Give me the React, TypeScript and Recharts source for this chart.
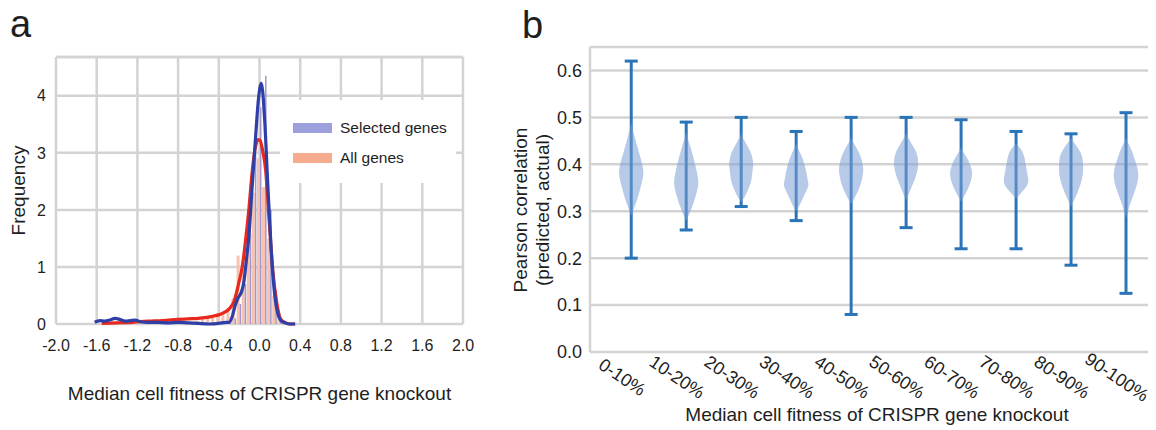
import React from "react"
import {
  ComposedChart,
  Bar,
  Line,
  Scatter,
  ErrorBar,
  XAxis,
  YAxis,
  CartesianGrid,
  ReferenceLine,
  Legend,
} from "recharts"

const FONT = "'Liberation Sans', Arial, Helvetica, sans-serif"
const GRID = "#d3d3d3"
const TEXT = "#1e1e1e"

// ---- panel a: fitness distribution ----
const fitnessTicks = [-2.0, -1.6, -1.2, -0.8, -0.4, 0.0, 0.4, 0.8, 1.2, 1.6, 2.0]
const frequencyTicks = [0, 1, 2, 3, 4]

const histBins = [-0.6, -0.55, -0.5, -0.45, -0.4, -0.35, -0.3, -0.25, -0.2, -0.15, -0.1, -0.05, 0.0, 0.05, 0.1, 0.15, 0.2, 0.25]
const histSelected = [0, 0, 0, 0, 0, 0, 0.02, 0.1, 0.35, 0.7, 1.6, 3.0, 3.8, 4.35, 2.0, 0.6, 0.1, 0]
const histAll = [0.05, 0.1, 0.1, 0.12, 0.18, 0.22, 0.28, 0.45, 1.2, 1.0, 1.9, 2.3, 2.9, 2.4, 1.5, 0.5, 0.18, 0.06]

const kdeSelectedX = [-1.62, -1.57, -1.52, -1.47, -1.42, -1.37, -1.32, -1.27, -1.22, -1.17, -1.1, -1.0, -0.9, -0.8, -0.7, -0.6, -0.5, -0.4, -0.33, -0.3, -0.27, -0.24, -0.21, -0.18, -0.155, -0.13, -0.105, -0.072, -0.038, -0.01, 0.018, 0.05, 0.08, 0.115, 0.15, 0.18, 0.21, 0.25, 0.3, 0.35]
const kdeSelectedY = [0.03, 0.06, 0.05, 0.07, 0.1, 0.08, 0.05, 0.06, 0.07, 0.04, 0.03, 0.03, 0.02, 0.03, 0.02, 0.01, 0.0, 0.01, 0.03, 0.03, 0.12, 0.32, 0.46, 0.55, 0.72, 1.1, 1.53, 2.41, 3.29, 3.95, 4.22, 3.6, 2.5, 1.3, 0.5, 0.18, 0.06, 0.02, 0.0, 0.0]

const kdeAllX = [-1.55, -1.4, -1.25, -1.1, -0.95, -0.8, -0.7, -0.6, -0.5, -0.45, -0.4, -0.35, -0.3, -0.25, -0.2, -0.17, -0.14, -0.105, -0.07, -0.04, -0.015, 0.005, 0.03, 0.06, 0.095, 0.13, 0.17, 0.21, 0.26, 0.3, 0.35]
const kdeAllY = [0.01, 0.02, 0.03, 0.05, 0.06, 0.08, 0.09, 0.1, 0.12, 0.14, 0.16, 0.2, 0.26, 0.4, 0.75, 1.0, 1.42, 2.0, 2.7, 3.1, 3.23, 3.22, 3.05, 2.7, 1.82, 0.95, 0.37, 0.08, 0.02, 0.0, 0.0]

// ---- panel b: correlation per fitness group ----
const fitnessGroups = ["0-10%", "10-20%", "20-30%", "30-40%", "40-50%", "50-60%", "60-70%", "70-80%", "80-90%", "90-100%"]
const corrTicks = [0.0, 0.1, 0.2, 0.3, 0.4, 0.5, 0.6]
const corrMin = [0.2, 0.26, 0.31, 0.28, 0.08, 0.265, 0.22, 0.22, 0.185, 0.125]
const corrMax = [0.62, 0.49, 0.5, 0.47, 0.5, 0.5, 0.495, 0.47, 0.465, 0.51]

// violin outline: correlation levels and half widths (in group units)
const violinLevels = [
  [0.29, 0.31, 0.33, 0.36, 0.38, 0.4, 0.43, 0.46, 0.49],
  [0.28, 0.29, 0.31, 0.34, 0.36, 0.38, 0.41, 0.44, 0.47],
  [0.32, 0.33, 0.35, 0.37, 0.39, 0.4, 0.42, 0.44, 0.465],
  [0.3, 0.31, 0.33, 0.35, 0.36, 0.38, 0.4, 0.42, 0.445],
  [0.315, 0.33, 0.35, 0.37, 0.39, 0.41, 0.43, 0.457],
  [0.323, 0.34, 0.36, 0.38, 0.4, 0.42, 0.44, 0.466],
  [0.32, 0.335, 0.355, 0.38, 0.4, 0.415, 0.436],
  [0.327, 0.34, 0.355, 0.37, 0.39, 0.41, 0.43, 0.445],
  [0.31, 0.33, 0.35, 0.37, 0.39, 0.41, 0.43, 0.457],
  [0.285, 0.31, 0.33, 0.35, 0.37, 0.39, 0.41, 0.43, 0.457],
]
const violinWidths = [
  [0, 0.06, 0.12, 0.19, 0.22, 0.2, 0.13, 0.06, 0],
  [0, 0.04, 0.11, 0.19, 0.22, 0.2, 0.14, 0.07, 0],
  [0, 0.06, 0.14, 0.19, 0.21, 0.22, 0.19, 0.11, 0],
  [0, 0.05, 0.13, 0.21, 0.22, 0.19, 0.15, 0.09, 0],
  [0, 0.07, 0.15, 0.2, 0.22, 0.19, 0.12, 0],
  [0, 0.06, 0.13, 0.19, 0.22, 0.2, 0.12, 0],
  [0, 0.07, 0.15, 0.2, 0.16, 0.1, 0],
  [0, 0.1, 0.2, 0.22, 0.19, 0.16, 0.1, 0],
  [0, 0.08, 0.15, 0.2, 0.22, 0.21, 0.15, 0],
  [0, 0.06, 0.12, 0.18, 0.22, 0.21, 0.16, 0.1, 0],
]

const histData = histBins.map((x, i) => ({ x, selected: histSelected[i], all: histAll[i] }))
const kdeSelected = kdeSelectedX.map((x, i) => ({ x, y: kdeSelectedY[i] }))
const kdeAll = kdeAllX.map((x, i) => ({ x, y: kdeAllY[i] }))

const whiskers = fitnessGroups.map((_, i) => {
  const mid = (corrMin[i] + corrMax[i]) / 2
  return { x: i, y: mid, err: [mid - corrMin[i], corrMax[i] - mid] }
})

const violins = violinLevels.map((levels, i) => {
  const w = violinWidths[i]
  const right = levels.map((y, k) => ({ x: i + w[k], y }))
  const left = levels.map((y, k) => ({ x: i - w[k], y })).reverse()
  return [...right, ...left]
})

const noDot = () => <g />

function LegendBox() {
  const row = (color: string, label: string, top: number) => (
    <div style={{ position: "absolute", left: 0, top, height: 18, display: "flex", alignItems: "center" }}>
      <div style={{ width: 39, height: 10, background: color, marginLeft: 13, marginRight: 8 }} />
      <span style={{ fontSize: 15.5, color: TEXT }}>{label}</span>
    </div>
  )
  return (
    <div style={{ position: "relative", width: 176, height: 83, background: "#fff" }}>
      {row("#9ca1dd", "Selected genes", 19)}
      {row("#f4ab8e", "All genes", 49)}
    </div>
  )
}

function GroupTick({ x, y, payload }: any) {
  const tx = x - 9
  const ty = y + 25
  return (
    <text x={tx} y={ty} dy="0.35em" textAnchor="middle" fontSize={18} fill={TEXT} transform={`rotate(34 ${tx} ${ty})`}>
      {fitnessGroups[payload.value]}
    </text>
  )
}

function CorrTitle() {
  return (
    <g fontSize={19} fill={TEXT} textAnchor="middle">
      <text x={30} y={210} dy="0.35em" transform="rotate(-90 30 210)">Pearson correlation</text>
      <text x={52} y={210} dy="0.35em" transform="rotate(-90 52 210)">(predicted, actual)</text>
    </g>
  )
}

// histogram, grid and axes
function FitnessHistogram() {
  return (
    <ComposedChart width={480} height={430} data={histData} margin={{ top: 57, right: 17, bottom: 26, left: 10 }} barGap={0}>
      <CartesianGrid stroke={GRID} strokeWidth={2.5} />
      <XAxis
        dataKey="x"
        type="number"
        domain={[-2, 2]}
        ticks={fitnessTicks}
        interval={0}
        tickFormatter={(v: number) => v.toFixed(1)}
        axisLine={false}
        tickLine={false}
        tickSize={0}
        tickMargin={16}
        height={80}
        tick={{ fontSize: 16, fill: TEXT }}
        label={{ value: "Median cell fitness of CRISPR gene knockout", position: "insideBottom", offset: 4, style: { fontSize: 19, fill: TEXT } }}
      />
      <YAxis
        type="number"
        domain={[0, 4.68]}
        ticks={frequencyTicks}
        interval={0}
        axisLine={false}
        tickLine={false}
        tickSize={0}
        tickMargin={10}
        width={46}
        tick={{ fontSize: 16, fill: TEXT }}
        label={{ value: "Frequency", angle: -90, position: "insideLeft", offset: 8, style: { fontSize: 19, fill: TEXT, textAnchor: "middle" } }}
      />
      <ReferenceLine y={4.68} stroke={GRID} strokeWidth={2.5} />
      <Bar dataKey="all" fill="#f7c3b0" barSize={3} isAnimationActive={false} />
      <Bar dataKey="selected" fill="#a197cc" barSize={1.5} isAnimationActive={false} />
    </ComposedChart>
  )
}

// density curves and legend, laid over the histogram with the same plot box
function FitnessCurves() {
  return (
    <ComposedChart width={480} height={430} margin={{ top: 57, right: 17, bottom: 106, left: 56 }}>
      <XAxis dataKey="x" type="number" domain={[-2, 2]} hide />
      <YAxis type="number" domain={[0, 4.68]} hide />
      <Line data={kdeAll} dataKey="y" type="monotone" stroke="#e8281c" strokeWidth={3.2} dot={false} isAnimationActive={false} />
      <Line data={kdeSelected} dataKey="y" type="monotone" stroke="#2e40a8" strokeWidth={3.2} dot={false} isAnimationActive={false} />
      <Legend
        layout="horizontal"
        verticalAlign="middle"
        align="center"
        wrapperStyle={{ left: 280, top: 100, width: 176, height: 83 }}
        content={() => <LegendBox />}
      />
    </ComposedChart>
  )
}

function CorrelationPanel() {
  return (
    <ComposedChart width={666} height={430} margin={{ top: 47, right: 8, bottom: 4, left: 38 }}>
      <CartesianGrid stroke={GRID} strokeWidth={2.5} vertical={false} />
      <XAxis
        dataKey="x"
        type="number"
        domain={[-0.75, 9.4]}
        ticks={fitnessGroups.map((_, i) => i)}
        interval={0}
        axisLine={false}
        tickLine={false}
        tickSize={0}
        tickMargin={0}
        height={74}
        tick={<GroupTick />}
        label={{ value: "Median cell fitness of CRISPR gene knockout", position: "insideBottom", offset: 5, dx: 8, style: { fontSize: 19, fill: TEXT } }}
      />
      <YAxis
        dataKey="y"
        type="number"
        domain={[0, 0.65]}
        ticks={corrTicks}
        interval={0}
        tickFormatter={(v: number) => v.toFixed(1)}
        axisLine={{ stroke: GRID, strokeWidth: 2.5 }}
        tickLine={false}
        tickSize={0}
        tickMargin={8}
        width={62}
        tick={{ fontSize: 18, fill: TEXT }}
        label={<CorrTitle />}
      />
      {violins.map((pts, i) => (
        <Scatter
          key={fitnessGroups[i]}
          data={pts}
          fill="#7b9ed3"
          shape={noDot}
          line={{ fill: "#7b9ed3", fillOpacity: 0.55, stroke: "none" }}
          lineJointType="natural"
          isAnimationActive={false}
        />
      ))}
      <Scatter data={whiskers} fill="#2a74b8" shape={noDot} isAnimationActive={false}>
        <ErrorBar dataKey="err" direction="y" width={6.5} stroke="#2a74b8" strokeWidth={3} />
      </Scatter>
    </ComposedChart>
  )
}

export default function App() {
  return (
    <div style={{ position: "absolute", left: 0, top: 0, width: 1156, height: 430, background: "#fff", fontFamily: FONT, color: TEXT }}>
      <div style={{ position: "absolute", left: 10, top: 5, fontSize: 38, lineHeight: 1 }}>a</div>
      <div style={{ position: "absolute", left: 522, top: 6, fontSize: 38, lineHeight: 1 }}>b</div>
      <div style={{ position: "absolute", left: 0, top: 0 }}>
        <FitnessHistogram />
      </div>
      <div style={{ position: "absolute", left: 0, top: 0 }}>
        <FitnessCurves />
      </div>
      <div style={{ position: "absolute", left: 490, top: 0 }}>
        <CorrelationPanel />
      </div>
    </div>
  )
}
